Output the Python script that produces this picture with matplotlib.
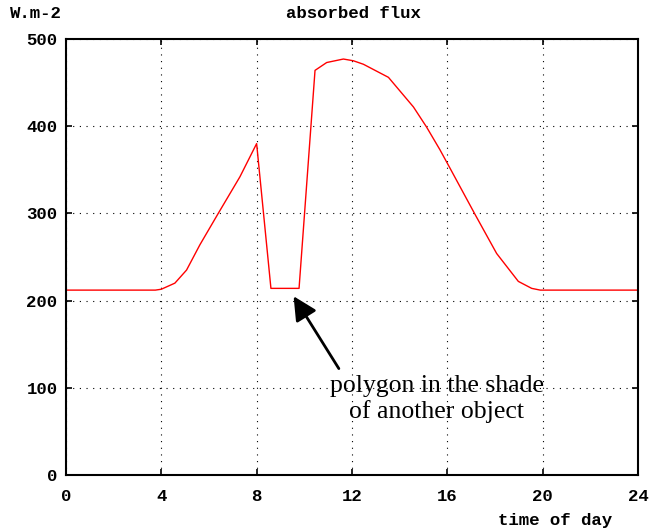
import matplotlib
matplotlib.use("Agg")
import matplotlib.pyplot as plt

# ==============================
# DATA
# ==============================

hours = [0, 2, 3.75, 4.0, 4.57, 5.06, 5.62, 6.39, 7.3, 8.0, 8.6, 9.78, 10.45,
         10.94, 11.64, 12.06, 12.48, 13.53, 14.58, 15.13, 15.69, 16.11, 17.16,
         18.07, 18.98, 19.54, 19.9, 22, 24]
flux = [212, 212, 212, 213, 220, 235, 264, 300, 342, 380, 214, 214, 464,
        473, 477, 475, 471, 456, 422, 399, 373, 352, 299,
        254, 222, 214, 212, 212, 212]

xticks = [0, 4, 8, 12, 16, 20, 24]
yticks = [0, 100, 200, 300, 400, 500]

TICK_FONT = dict(family="Liberation Mono", weight="bold", size=12.5)

fig = plt.figure(figsize=(6.53, 5.31), dpi=100)
ax = fig.add_axes([0.101, 0.1055, 0.876, 0.8211])

ax.plot(hours, flux, color="red", lw=1)

ax.set_xlim(0, 24)
ax.set_ylim(0, 500)
ax.set_xticks(xticks)
ax.set_yticks(yticks)
ax.set_xticklabels([str(t) for t in xticks], fontdict=TICK_FONT)
ax.set_yticklabels([str(t) for t in yticks], fontdict=TICK_FONT)
ax.tick_params(direction="in", length=4, width=1.2, top=True, right=True, pad=10)
ax.tick_params(axis="y", pad=6)

ax.grid(True, color="black", linestyle=(0, (1, 5)), lw=0.8)
for s in ax.spines.values():
    s.set_linewidth(1.5)

fig.text(0.542, 0.975, "absorbed flux", ha="center", va="center", **TICK_FONT)
fig.text(0.015, 0.975, "W.m-2", ha="left", va="center", **TICK_FONT)
fig.text(0.937, 0.02, "time of day", ha="right", va="center", **TICK_FONT)

# annotation arrow + text
ax.annotate("", xy=(9.55, 205), xytext=(11.45, 122),
            arrowprops=dict(arrowstyle="-|>", color="black", lw=2,
                            mutation_scale=36, shrinkA=0, shrinkB=0))
ax.text(15.55, 87, "polygon in the shade\nof another object", ha="center",
        va="center", family="Liberation Serif", size=18.5, linespacing=1.2)

fig.savefig("out.png", dpi=100)
